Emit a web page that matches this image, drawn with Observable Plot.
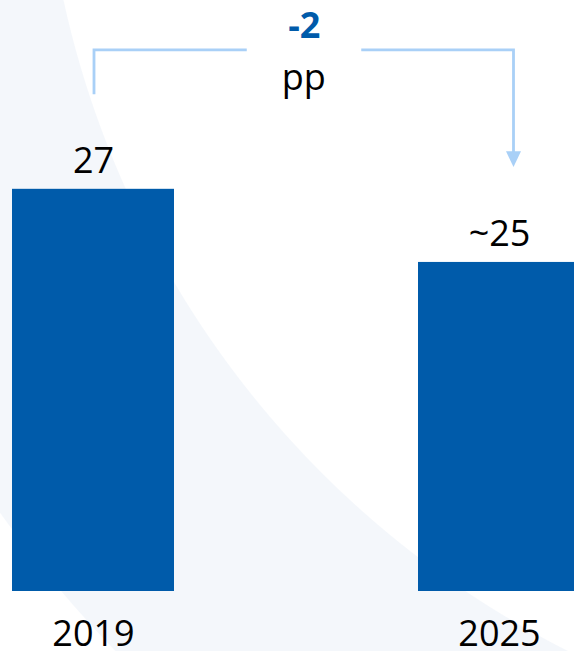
<!DOCTYPE html>
<html>
<head>
<meta charset="utf-8">
<script src="https://cdn.jsdelivr.net/npm/d3@7"></script>
<script src="https://cdn.jsdelivr.net/npm/@observablehq/plot@0.6"></script>
<style>
  html, body { margin: 0; padding: 0; background: #fff; overflow: hidden; }
  #chart {
    position: relative; width: 574px; height: 651px; overflow: hidden;
    background: radial-gradient(circle 1400px at 999px -204px,
      #ffffff 0px, #ffffff 957px, #F4F7FB 958px, #F4F7FB 1229px, #ffffff 1230px);
  }
  #chart svg text { font-family: "Open Sans", sans-serif; font-size: 36px; }
</style>
</head>
<body>
<div id="chart"></div>
<script>
// ---- data ----
const years = ["2019", "2025"];
const values = [27, 25];
const valueLabels = ["27", "~25"];
const changeUnit = "pp";

const data = years.map((year, i) => ({year, value: values[i], label: valueLabels[i]}));
const change = values[1] - values[0];
const changeLabel = (change > 0 ? "+" : "") + String(change).replace("−", "-");

const barColor = "#005BAA";
const bracketColor = "#A9D0F7";
const yBase = 16;

// annotation bracket drawn with the plot's own scales
function bracket(index, scales) {
  const xs = scales.x, ys = scales.y;
  const bw = xs.bandwidth ? xs.bandwidth() : 0;
  const c1 = xs(years[0]) + bw / 2;
  const c2 = xs(years[1]) + bw / 2;
  const leftX = c1 + 1;
  const rightX = c2 + 14.5;
  const topY = ys(Math.max(...values)) - 139;
  const mid = (leftX + rightX) / 2;
  const tipY = ys(values[1]) - 95;
  const g = d3.create("svg:g");
  const line = (pts) => g.append("path")
    .attr("d", d3.line()(pts))
    .attr("fill", "none")
    .attr("stroke", bracketColor)
    .attr("stroke-width", 2.8);
  line([[leftX, topY + 44.5], [leftX, topY], [mid - 57, topY]]);
  line([[mid + 57.5, topY], [rightX, topY], [rightX, tipY - 15]]);
  g.append("path")
    .attr("d", `M${rightX - 7.5},${tipY - 15.6}L${rightX + 7.5},${tipY - 15.6}L${rightX},${tipY}Z`)
    .attr("fill", bracketColor);
  g.append("text")
    .attr("x", mid + 0.5).attr("y", topY - 11.5)
    .attr("text-anchor", "middle")
    .attr("font-weight", "bold")
    .attr("fill", barColor)
    .text(changeLabel);
  g.append("text")
    .attr("x", mid).attr("y", topY + 40)
    .attr("text-anchor", "middle")
    .attr("fill", "#000")
    .text(changeUnit);
  return g.node();
}

const plot = Plot.plot({
  width: 574,
  height: 651,
  marginTop: 6,
  marginBottom: 60,
  marginLeft: 0,
  marginRight: 0,
  style: {
    background: "transparent",
    fontFamily: "'Open Sans', sans-serif",
    fontSize: "36px",
    color: "#000",
    overflow: "hidden"
  },
  x: {
    type: "band",
    domain: years,
    range: [11.5, 581],
    paddingInner: 0.6,
    paddingOuter: 0,
    tickSize: 0,
    tickPadding: 28.5,
    label: null
  },
  y: {
    domain: [yBase, 32],
    axis: null
  },
  marks: [
    Plot.barY(data, {x: "year", y1: () => yBase, y2: "value", fill: barColor}),
    Plot.text(data, {
      x: "year", y: "value", text: "label",
      dy: -16, lineAnchor: "bottom", fill: "#000", fontSize: 36
    }),
    bracket
  ]
});

document.getElementById("chart").appendChild(plot);
</script>
</body>
</html>
